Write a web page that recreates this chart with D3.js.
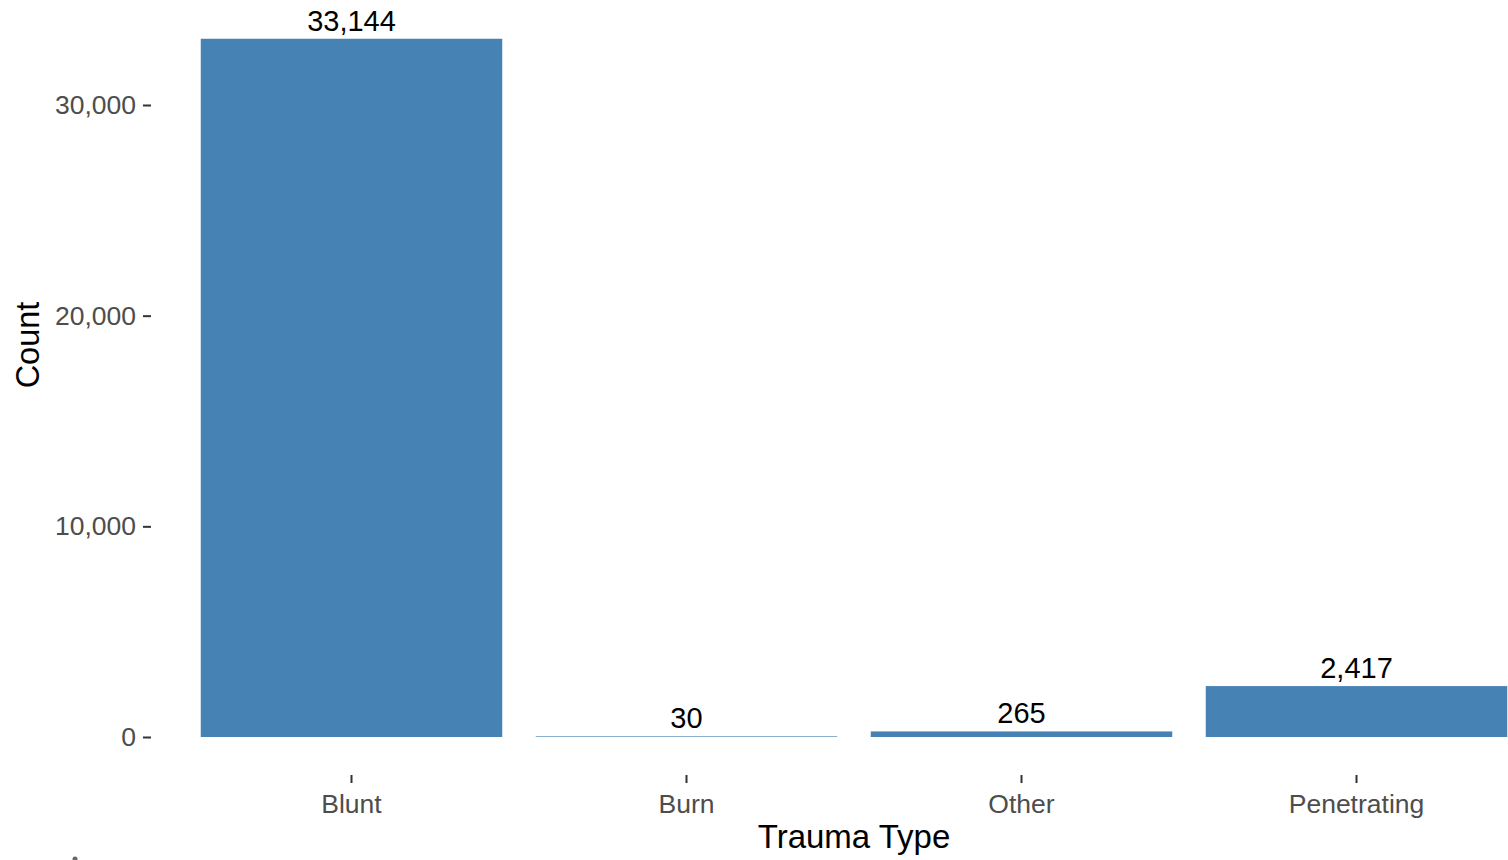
<!DOCTYPE html>
<html>
<head>
<meta charset="utf-8">
<style>
html, body { margin:0; padding:0; background:#fff; overflow:hidden; }
svg { display:block; font-family: "Liberation Sans", Arial, sans-serif; }
</style>
</head>
<body>
<svg width="1508" height="860"></svg>
<script src="https://d3js.org/d3.v7.min.js"></script>
<script>
var categories = ["Blunt", "Burn", "Other", "Penetrating"];
var counts = [33144, 30, 265, 2417];
var yTicks = [0, 10000, 20000, 30000];

var svg = d3.select("svg");
var fmt = d3.format(",");

// panel runs off the right edge, like the original
var x = d3.scaleBand()
    .domain(categories)
    .range([150.5, 1557.5])
    .paddingInner(0.1)
    .paddingOuter(0.15);

var y = d3.scaleLinear()
    .domain([0, 30000])
    .range([737, 105]);

var data = categories.map(function(c, i) { return {cat: c, n: counts[i]}; });

svg.selectAll("rect.bar")
    .data(data)
  .enter().append("rect")
    .attr("class", "bar")
    .attr("x", function(d) { return x(d.cat); })
    .attr("width", x.bandwidth())
    .attr("y", function(d) { return y(d.n); })
    .attr("height", function(d) { return y(0) - y(d.n); })
    .attr("fill", "#4682B4");

svg.selectAll("text.lab")
    .data(data)
  .enter().append("text")
    .attr("class", "lab")
    .attr("x", function(d) { return x(d.cat) + x.bandwidth() / 2; })
    .attr("y", function(d) { return y(d.n) - 8; })
    .attr("text-anchor", "middle")
    .attr("font-size", 29)
    .attr("fill", "#000")
    .text(function(d) { return fmt(d.n); });

// y axis (ticks + labels only)
var yAxis = svg.append("g")
    .attr("transform", "translate(151,0)")
    .call(d3.axisLeft(y).tickValues(yTicks).tickFormat(fmt).tickSize(8).tickPadding(7));
yAxis.select(".domain").remove();
yAxis.selectAll("line").attr("stroke", "#333").attr("stroke-width", 2);
yAxis.selectAll("text").attr("fill", "#4D4D4D").attr("font-size", 26.5)
    .attr("font-family", "Liberation Sans, Arial, sans-serif");

// x axis
var xAxis = svg.append("g")
    .attr("transform", "translate(0,775)")
    .call(d3.axisBottom(x).tickSize(8).tickPadding(11));
xAxis.select(".domain").remove();
xAxis.selectAll("line").attr("stroke", "#333").attr("stroke-width", 2);
xAxis.selectAll("text").attr("fill", "#4D4D4D").attr("font-size", 26.5)
    .attr("font-family", "Liberation Sans, Arial, sans-serif");

svg.append("text")
    .attr("x", 854)
    .attr("y", 848)
    .attr("text-anchor", "middle")
    .attr("font-size", 33)
    .attr("fill", "#000")
    .text("Trauma Type");

svg.append("text")
    .attr("transform", "translate(39,345) rotate(-90)")
    .attr("text-anchor", "middle")
    .attr("font-size", 32.5)
    .attr("fill", "#000")
    .text("Count");

// stray mark at the bottom left edge
svg.append("circle")
    .attr("cx", 75)
    .attr("cy", 859)
    .attr("r", 2.5)
    .attr("fill", "#666");
</script>
</body>
</html>
